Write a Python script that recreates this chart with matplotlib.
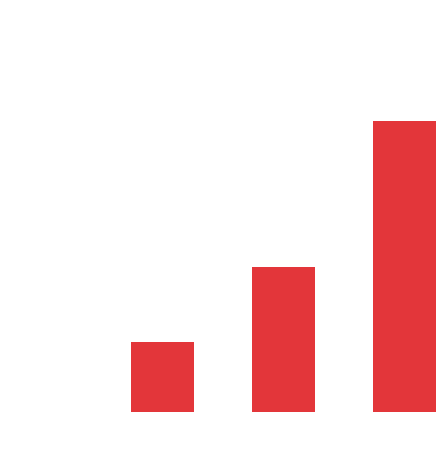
import matplotlib
matplotlib.use("Agg")
import matplotlib.pyplot as plt

# Data
categories = ["A", "B", "C"]
values = [24, 50, 100]
positions = [1, 2, 3]

fig = plt.figure(figsize=(4.48, 4.54), dpi=100)
ax = fig.add_axes([0, 0, 1, 1])

ax.bar(positions, values, width=0.52, color="#e3363a")

# Axis hidden, limits chosen to place bars like the reference
ax.set_xlim(-0.343, 3.36)
ax.set_ylim(-14.4, 141.6)
ax.axis("off")

fig.savefig("out.png", dpi=100, facecolor="white")
